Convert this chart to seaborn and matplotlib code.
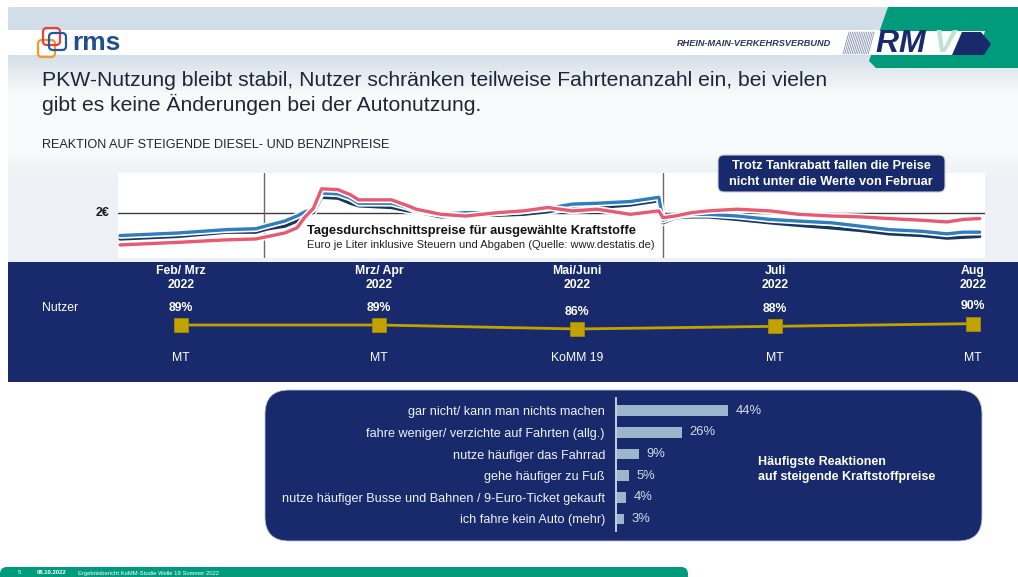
import numpy as np
import pandas as pd
import matplotlib
matplotlib.use("Agg")
import matplotlib.pyplot as plt
import matplotlib.patheffects as pe
import matplotlib.transforms as mtransforms
from matplotlib.patches import Rectangle, FancyBboxPatch, Polygon
import seaborn as sns

# ---------------- data ----------------
dates = ["2022-01-20", "2022-02-03", "2022-02-15", "2022-02-22", "2022-02-25", "2022-03-01",
         "2022-03-04", "2022-03-06", "2022-03-08", "2022-03-10", "2022-03-14", "2022-03-17",
         "2022-03-19", "2022-03-27", "2022-03-31", "2022-04-02", "2022-04-08", "2022-04-14",
         "2022-04-22", "2022-04-28", "2022-05-04", "2022-05-10", "2022-05-16", "2022-05-24",
         "2022-05-31", "2022-06-01", "2022-06-04", "2022-06-08", "2022-06-12", "2022-06-19",
         "2022-06-27", "2022-07-04", "2022-07-12", "2022-07-19", "2022-07-26", "2022-08-03",
         "2022-08-09", "2022-08-13", "2022-08-17"]
diesel = [1.63, 1.66, 1.69, 1.70, 1.73, 1.77, 1.83, 1.96, 2.06, 2.29, 2.28, 2.22, 2.16, 2.16,
          2.09, 2.05, 1.99, 1.97, 2.01, 2.03, 2.07, 2.03, 2.05, 1.99, 2.03, 1.95, 1.97, 2.01,
          2.03, 2.05, 2.03, 1.99, 1.97, 1.96, 1.94, 1.92, 1.90, 1.93, 1.94]
super_e5 = [1.74, 1.77, 1.81, 1.82, 1.86, 1.91, 1.97, 2.02, 2.05, 2.24, 2.23, 2.18, 2.12, 2.12,
            2.07, 2.03, 1.99, 2.01, 2.01, 2.03, 2.06, 2.11, 2.12, 2.14, 2.19, 1.92, 1.97, 1.99,
            1.99, 1.97, 1.93, 1.91, 1.89, 1.85, 1.81, 1.79, 1.76, 1.78, 1.78]
super_e10 = [1.70, 1.73, 1.78, 1.78, 1.82, 1.85, 1.91, 1.99, 2.01, 2.19, 2.18, 2.12, 2.09, 2.07,
             2.03, 2.02, 1.96, 1.98, 1.98, 1.99, 2.02, 2.07, 2.07, 2.10, 2.15, 1.89, 1.95, 1.96,
             1.96, 1.93, 1.89, 1.86, 1.83, 1.80, 1.76, 1.74, 1.71, 1.72, 1.73]
fuels = ["Super E10", "Super E5", "Diesel"]
event_dates = ["2022-02-24", "2022-06-01"]

waves = ["Feb/ Mrz\n2022", "Mrz/ Apr\n2022", "Mai/Juni\n2022", "Juli\n2022", "Aug\n2022"]
nutzer = [89, 89, 86, 88, 90]
sources = ["MT", "MT", "KoMM 19", "MT", "MT"]

reactions = ["gar nicht/ kann man nichts machen",
             "fahre weniger/ verzichte auf Fahrten (allg.)",
             "nutze häufiger das Fahrrad",
             "gehe häufiger zu Fuß",
             "nutze häufiger Busse und Bahnen / 9-Euro-Ticket gekauft",
             "ich fahre kein Auto (mehr)"]
shares = [44, 26, 9, 5, 4, 3]

# ---------------- style ----------------
sns.set_theme(style="white")
plt.rcParams["font.family"] = ["Liberation Sans", "DejaVu Sans"]

NAVY = "#182a6b"
GREEN = "#009b7c"
GOLD = "#c2a200"
W, H = 1018, 577

fig = plt.figure(figsize=(W / 100, H / 100), dpi=100)
fig.patch.set_facecolor("white")


def box(x0, y0, x1, y1):
    return [x0 / W, 1 - y1 / H, (x1 - x0) / W, (y1 - y0) / H]


def pix_axes(z):
    a = fig.add_axes([0, 0, 1, 1], zorder=z)
    a.set_xlim(0, W)
    a.set_ylim(H, 0)
    a.axis("off")
    a.patch.set_visible(False)
    return a


bg = pix_axes(-10)
ov = pix_axes(5)

# background bands / gradient
bg.add_patch(Rectangle((8, 7), W - 8, 23, color="#d2dee7", lw=0))
stops_y = [55, 66, 95, 150, 178, 262]
stops_c = ["#d3dfe8", "#dfe7ee", "#fafbfc", "#f8fafb", "#eef2f6", "#edf1f5"]
ys = np.arange(55, 263)
rgb = np.array([matplotlib.colors.to_rgb(c) for c in stops_c])
grad = np.stack([np.interp(ys, stops_y, rgb[:, k]) for k in range(3)], axis=-1)[:, None, :]
bg.imshow(grad, extent=(8, W, 262, 55), origin="upper", aspect="auto", zorder=0)
bg.set_xlim(0, W)
bg.set_ylim(H, 0)

# RMV header
bg.add_patch(Polygon([(888, 7), (W, 7), (W, 68), (876, 68), (869, 61)], closed=True,
                     color=GREEN, lw=0, zorder=2))
bg.add_patch(Polygon([(8, 31), (985, 31), (977, 55), (8, 55)], closed=True,
                     color="white", lw=0, zorder=3))
for x in np.arange(846, 872, 1.8):
    bg.plot([x - 3, x + 3], [54, 32], color="#7f8aab", lw=0.55, zorder=4)
bg.add_patch(Polygon([(962, 32), (981, 32), (991, 44), (984, 55), (952, 55)], closed=True,
                     color=NAVY, lw=0, zorder=4))
bg.text(875, 44, "R", fontsize=23, fontweight="bold", style="italic", color=NAVY,
        va="center", ha="left", zorder=5)
bg.text(898, 44, "M", fontsize=23, fontweight="bold", style="italic", color=NAVY,
        va="center", ha="left", zorder=5)
bg.text(933, 44, "V", fontsize=23, fontweight="bold", style="italic", color="#bfe3d3",
        va="center", ha="left", zorder=5)
bg.text(677, 43, "RHEIN-MAIN-VERKEHRSVERBUND", fontsize=6.6, fontweight="bold",
        style="italic", color="#2b3563", va="center", ha="left", zorder=5)

# rms logo
for (x, y, c) in [(38, 40, "#f39a22"), (43, 28, "#e8413c"), (49, 33, "#1f5a9a")]:
    bg.add_patch(FancyBboxPatch((x, y), 17, 17, boxstyle="round,pad=0,rounding_size=4",
                                fill=False, ec=c, lw=1.6, zorder=5))
bg.text(72, 43, "rms", fontsize=19, fontweight="bold", color="#1f4f8f",
        va="center", ha="left", zorder=5)

# titles
TITLE_C = "#1f2638"
ov.text(42, 80, "PKW-Nutzung bleibt stabil, Nutzer schränken teilweise Fahrtenanzahl ein, bei vielen",
        fontsize=15.2, color=TITLE_C, va="center", ha="left")
ov.text(42, 104, "gibt es keine Änderungen bei der Autonutzung.",
        fontsize=15.2, color=TITLE_C, va="center", ha="left")
ov.text(42, 145, "REAKTION AUF STEIGENDE DIESEL- UND BENZINPREISE",
        fontsize=9.1, color="#1f2333", va="center", ha="left")

# ---------------- price chart ----------------
ax1 = fig.add_axes(box(118, 173, 985, 258), zorder=1)
ax1.set_facecolor("white")
df = pd.DataFrame({
    "date": pd.to_datetime(dates * 3),
    "price": super_e10 + super_e5 + diesel,
    "fuel": [fuels[0]] * len(dates) + [fuels[1]] * len(dates) + [fuels[2]] * len(dates),
})
sns.lineplot(data=df, x="date", y="price", hue="fuel", hue_order=fuels,
             palette={"Super E10": "#16375e", "Super E5": "#2f7cc1", "Diesel": "#e85a72"},
             lw=2.4, errorbar=None, legend=False, ax=ax1, zorder=3)
for ln in ax1.lines:
    ln.set_path_effects([pe.Stroke(linewidth=4.8, foreground="white"), pe.Normal()])
ax1.axhline(2.0, color="#3a3a3a", lw=1.0, zorder=1)
for d in event_dates:
    ax1.axvline(pd.Timestamp(d), color="#6a6a6a", lw=1.0, zorder=1)
ax1.set_xlim(pd.Timestamp("2022-01-19 12:00"), pd.Timestamp("2022-08-18 07:00"))
ax1.set_ylim(1.476, 2.476)
ax1.set_xticks([])
ax1.set_yticks([])
ax1.set_xlabel("")
ax1.set_ylabel("")
for s in ax1.spines.values():
    s.set_visible(False)
ax1.annotate("2€", xy=(0, 2.0), xycoords=("axes fraction", "data"), xytext=(-6, 0),
             textcoords="offset points", ha="right", va="center", fontsize=9,
             fontweight="bold", color="#1a1a1a")

ov.text(307, 231, "Tagesdurchschnittspreise für ausgewählte Kraftstoffe", fontsize=9.3,
        fontweight="bold", color="#111111", va="center", ha="left")
ov.text(307, 245, "Euro je Liter inklusive Steuern und Abgaben (Quelle: www.destatis.de)",
        fontsize=8.05, color="#222222", va="center", ha="left")

ov.add_patch(FancyBboxPatch((718, 155), 227, 37, boxstyle="round,pad=0,rounding_size=6",
                            fc=NAVY, ec="#c9d0e0", lw=0.8))
ov.text(831, 166, "Trotz Tankrabatt fallen die Preise", fontsize=9.2, fontweight="bold",
        color="white", ha="center", va="center")
ov.text(831, 182, "nicht unter die Werte von Februar", fontsize=9.2, fontweight="bold",
        color="white", ha="center", va="center")

# ---------------- Nutzer band ----------------
bg.add_patch(Rectangle((8, 262), W - 8, 120, color=NAVY, lw=0, zorder=2))
ax2 = fig.add_axes(box(8, 262, 1018, 382), zorder=2)
ax2.patch.set_visible(False)
sns.lineplot(x=list(range(len(nutzer))), y=nutzer, ax=ax2, color=GOLD, lw=2.0,
             marker="s", markersize=9.5, markeredgecolor="#a68a00", markeredgewidth=0.6)
ax2.set_xlim(-0.874, 4.227)
ax2.set_ylim(46.1, 136.4)
ax2.axis("off")
trans = mtransforms.blended_transform_factory(ax2.transData, ax2.transAxes)
for i, (w, v, s) in enumerate(zip(waves, nutzer, sources)):
    ax2.text(i, 0.867, w, transform=trans, ha="center", va="center", fontsize=8.8,
             fontweight="bold", color="white", linespacing=1.28)
    ax2.annotate(f"{v}%", xy=(i, v), xytext=(0, 12.4), textcoords="offset points",
                 ha="center", va="center", fontsize=8.8, fontweight="bold", color="white")
    ax2.text(i, 0.2, s, transform=trans, ha="center", va="center", fontsize=8.8,
             color="white")
ax2.text(-0.702, 0.617, "Nutzer", transform=trans, ha="left", va="center", fontsize=8.8,
         color="white")

# ---------------- reactions bar panel ----------------
bg.add_patch(FancyBboxPatch((265, 390), 717, 151, boxstyle="round,pad=0,rounding_size=24",
                            fc=NAVY, ec="#b9c3d6", lw=0.6, zorder=2))
ax3 = fig.add_axes(box(616, 398, 982, 531), zorder=2)
ax3.patch.set_visible(False)
sns.barplot(x=shares, y=reactions, orient="h", color="#9db6cd", width=0.5,
            saturation=1, linewidth=0, edgecolor="none", ax=ax3)
ax3.set_xlim(0, 143.9)
ax3.set_ylim(5.555, -0.586)
ax3.set_xticks([])
ax3.set_xlabel("")
ax3.set_ylabel("")
for k in ["top", "right", "bottom"]:
    ax3.spines[k].set_visible(False)
ax3.spines["left"].set_color("#c3cfdc")
ax3.spines["left"].set_linewidth(1.4)
ax3.tick_params(axis="y", length=0, pad=8, labelsize=9.1, labelcolor="#eef1f7")
ax3.bar_label(ax3.containers[0], labels=[f"{v}%" for v in shares], padding=5.5,
              fontsize=9.4, color="#d3dbe6")
ov.text(758, 462, "Häufigste Reaktionen", fontsize=9.0, fontweight="bold", color="white",
        ha="left", va="center")
ov.text(758, 477, "auf steigende Kraftstoffpreise", fontsize=9.0, fontweight="bold",
        color="white", ha="left", va="center")

# ---------------- footer ----------------
bg.add_patch(FancyBboxPatch((0, 567), 688, 20, boxstyle="round,pad=0,rounding_size=7",
                            fc=GREEN, lw=0, zorder=2))
ov.text(18, 573, "5", fontsize=4.2, color="white", va="center", ha="left")
ov.text(37, 573, "08.10.2022", fontsize=4.2, fontweight="bold", color="white",
        va="center", ha="left")
ov.text(78, 573, "Ergebnisbericht KoMM-Studie Welle 19 Sommer 2022", fontsize=4.2,
        color="white", va="center", ha="left")

fig.savefig("out.png", dpi=100, facecolor="white")
